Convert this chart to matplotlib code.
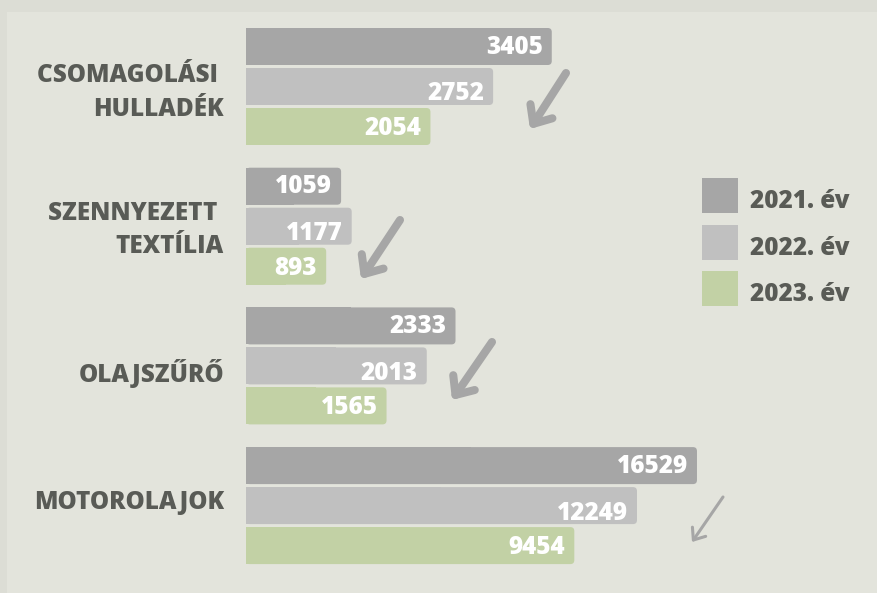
import matplotlib
matplotlib.use("Agg")
import matplotlib.pyplot as plt
from matplotlib.patches import FancyBboxPatch, Rectangle

# data
categories = ["CSOMAGOLÁSI \nHULLADÉK", "SZENNYEZETT \nTEXTÍLIA", "OLAJSZŰRŐ", "MOTOROLAJOK"]
years = ["2021. év", "2022. év", "2023. év"]
values_2021 = [3405, 1059, 2333, 16529]
values_2022 = [2752, 1177, 2013, 12249]
values_2023 = [2054, 893, 1565, 9454]
# the motor oil bars are drawn shorter than their values in the original
lengths_2021 = [3405, 1059, 2333, 5022]
lengths_2022 = [2752, 1177, 2013, 4354]
lengths_2023 = [2054, 893, 1565, 3656]

colors = ["#a6a6a6", "#c0c0c0", "#c2d1a5"]
TEXT = "#595b56"
FONT = ["Open Sans", "DejaVu Sans"]
FS = 17.5

W, H = 877, 593
X0 = 246          # px where bars start
SCALE = 0.0898    # px per unit
BAR_H = 37


def main():
    fig = plt.figure(figsize=(W / 100, H / 100), dpi=100)
    fig.patch.set_facecolor("#dcddd5")

    # background axes in pixel coords
    ax = fig.add_axes([0, 0, 1, 1])
    ax.set_xlim(0, W)
    ax.set_ylim(H, 0)
    ax.axis("off")
    ax.add_patch(Rectangle((7, 12), W, H, facecolor="#e3e4dc", edgecolor="none"))

    # bar axes: x in data units, y in px
    bx = fig.add_axes([0, 0, 1, 1], zorder=2)
    bx.set_xlim(-X0 / SCALE, (W - X0) / SCALE)
    bx.set_ylim(H, 0)
    bx.axis("off")
    bx.patch.set_visible(False)

    group_tops = [28 + g * 139.7 for g in range(len(categories))]
    series = [(values_2021, lengths_2021), (values_2022, lengths_2022), (values_2023, lengths_2023)]
    text_dy = [7, 14, 8.5]
    r = 4 / SCALE
    for j, (vals, lens) in enumerate(series):
        ys = [t + j * 40 + BAR_H / 2 for t in group_tops]
        bars = bx.barh(ys, lens, height=BAR_H, color=colors[j])
        for bar, v, y in zip(bars, vals, ys):
            x, yb, w, h = bar.get_x(), bar.get_y(), bar.get_width(), bar.get_height()
            bar.set_visible(False)
            bx.add_patch(FancyBboxPatch((x, yb), w, h,
                                        boxstyle=f"round,pad=0,rounding_size={r}",
                                        mutation_aspect=SCALE, facecolor=colors[j],
                                        edgecolor="none"))
            bx.add_patch(Rectangle((x, yb), w / 2, h, facecolor=colors[j], edgecolor="none"))
            bx.text(w - 9 / SCALE, y + text_dy[j], str(v), color="white",
                    fontsize=FS, fontweight=800, family=FONT,
                    ha="right", va="baseline")

    # category labels
    label_baselines = [[81.7, 116], [220, 253.3], [381.7], [509]]
    for cat, bases in zip(categories, label_baselines):
        for line, yb in zip(cat.split("\n"), bases):
            ax.text(224, yb, line, color=TEXT, fontsize=FS, fontweight=800,
                    family=FONT, ha="right", va="baseline")

    # trend arrows
    arrows = [((566, 73), (530, 129), 5.8, 10.8, 9.4),
              ((400, 220), (361, 279), 5.8, 10.8, 9.4),
              ((492, 342), (452, 400), 5.8, 10.8, 9.4),
              ((723, 497), (692, 542), 2.2, 7.2, 5.8)]
    for tail, tip, lw, hl, hw in arrows:
        ax.annotate("", xy=tip, xytext=tail,
                    arrowprops=dict(arrowstyle=f"->,head_length={hl},head_width={hw}",
                                    mutation_scale=1, lw=lw, color="#a6a6a6",
                                    shrinkA=0, shrinkB=0, capstyle="round",
                                    joinstyle="round"))

    # legend
    sq_tops = [178, 225, 271]
    for yr, c, t in zip(years, colors, sq_tops):
        ax.add_patch(Rectangle((702, t), 36, 35, facecolor=c, edgecolor="none"))
        ax.text(749.5, t + 17.5 + 12.8, yr, color=TEXT, fontsize=FS,
                fontweight=800, family=FONT, ha="left", va="baseline")

    fig.savefig("out.png", dpi=100, facecolor=fig.get_facecolor())


if __name__ == "__main__":
    main()
